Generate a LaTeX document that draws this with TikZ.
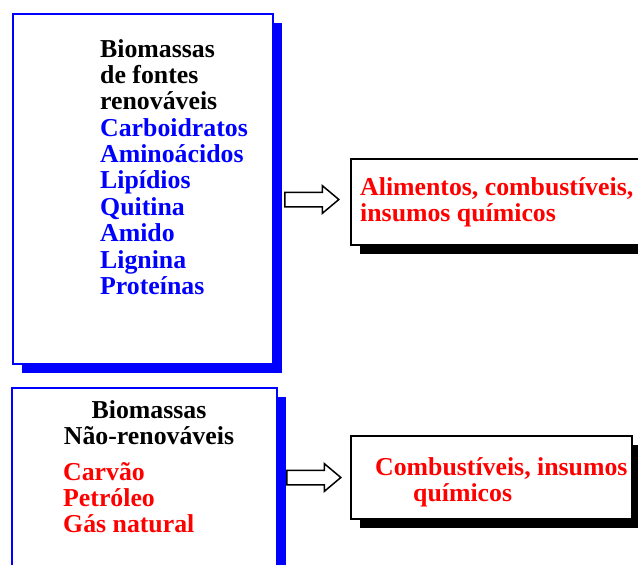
\documentclass[tikz,border=0pt]{standalone}
\usepackage{fontspec}
\setmainfont{Liberation Serif}
\usetikzlibrary{positioning,calc,shapes.arrows,shadows}
\definecolor{BMBlue}{HTML}{0000FF}
\definecolor{BMRed}{HTML}{FF0000}
\definecolor{BMInk}{HTML}{000000}
\tikzset{
  bigtext/.style={font=\fontsize{25.8}{26.4}\selectfont\bfseries,inner sep=0pt,align=left},
  headtext/.style={bigtext,text=BMInk},
  bluetext/.style={bigtext,text=BMBlue},
  redtext/.style={bigtext,text=BMRed},
  panel/.style={draw=BMBlue,line width=2pt,fill=white,inner sep=0pt,
                drop shadow={shadow xshift=9pt,shadow yshift=-9pt,fill=BMBlue,opacity=1}},
  card/.style={draw=BMInk,line width=2pt,fill=white,inner sep=0pt,
               drop shadow={shadow xshift=9pt,shadow yshift=-9pt,fill=BMInk,opacity=1}},
  fatarrow/.style={single arrow,draw=BMInk,line width=1.5pt,fill=white,
                   inner xsep=0pt,inner ysep=6.5pt,xshift=-4.5pt,
                   minimum height=54pt,minimum width=26pt,
                   single arrow head extend=6.5pt,single arrow tip angle=80},
}
\begin{document}
\begin{tikzpicture}[x=1pt,y=-1pt]
  \path[use as bounding box,clip] (0,0) rectangle (638,565);

  % renewable sources
  \node[panel,minimum width=260pt,minimum height=350pt] (renov) at (143,189) {};
  \node[headtext,anchor=north west] (renovhead) at (100,39)
    {Biomassas\\de fontes\\renováveis};
  \node[bluetext,anchor=north west] (renovlist) at (100,118)
    {Carboidratos\\Aminoácidos\\Lipídios\\Quitina\\Amido\\Lignina\\Proteínas};

  \node[card,minimum width=309pt,minimum height=86pt] (alim) at (505.5,202) {};
  \node[redtext,anchor=north west] (alimtext) at (360,177)
    {Alimentos, combustíveis,\\insumos químicos};

  \node[fatarrow,yshift=2.5pt] (seta1) at ($(renov.east |- alim.west)!0.5!(alim.west)$) {};

  % non-renewable sources
  \node[panel,minimum width=265pt,minimum height=202pt] (naorenov) at (144.5,489) {};
  \node[headtext,align=center,anchor=north] (naorenovhead) at (149,400)
    {Biomassas\\Não-renováveis};
  \node[redtext,anchor=north west] (naorenovlist) at (63,462)
    {Carvão\\Petróleo\\Gás natural};

  \node[card,minimum width=281pt,minimum height=83pt] (comb) at (491.5,477.5) {};
  \node[redtext,anchor=north west] (combtext) at (375,457)
    {Combustíveis, insumos\\\hspace*{38pt}químicos};

  \node[fatarrow] (seta2) at ($(naorenov.east |- comb.west)!0.5!(comb.west)$) {};
\end{tikzpicture}
\end{document}
